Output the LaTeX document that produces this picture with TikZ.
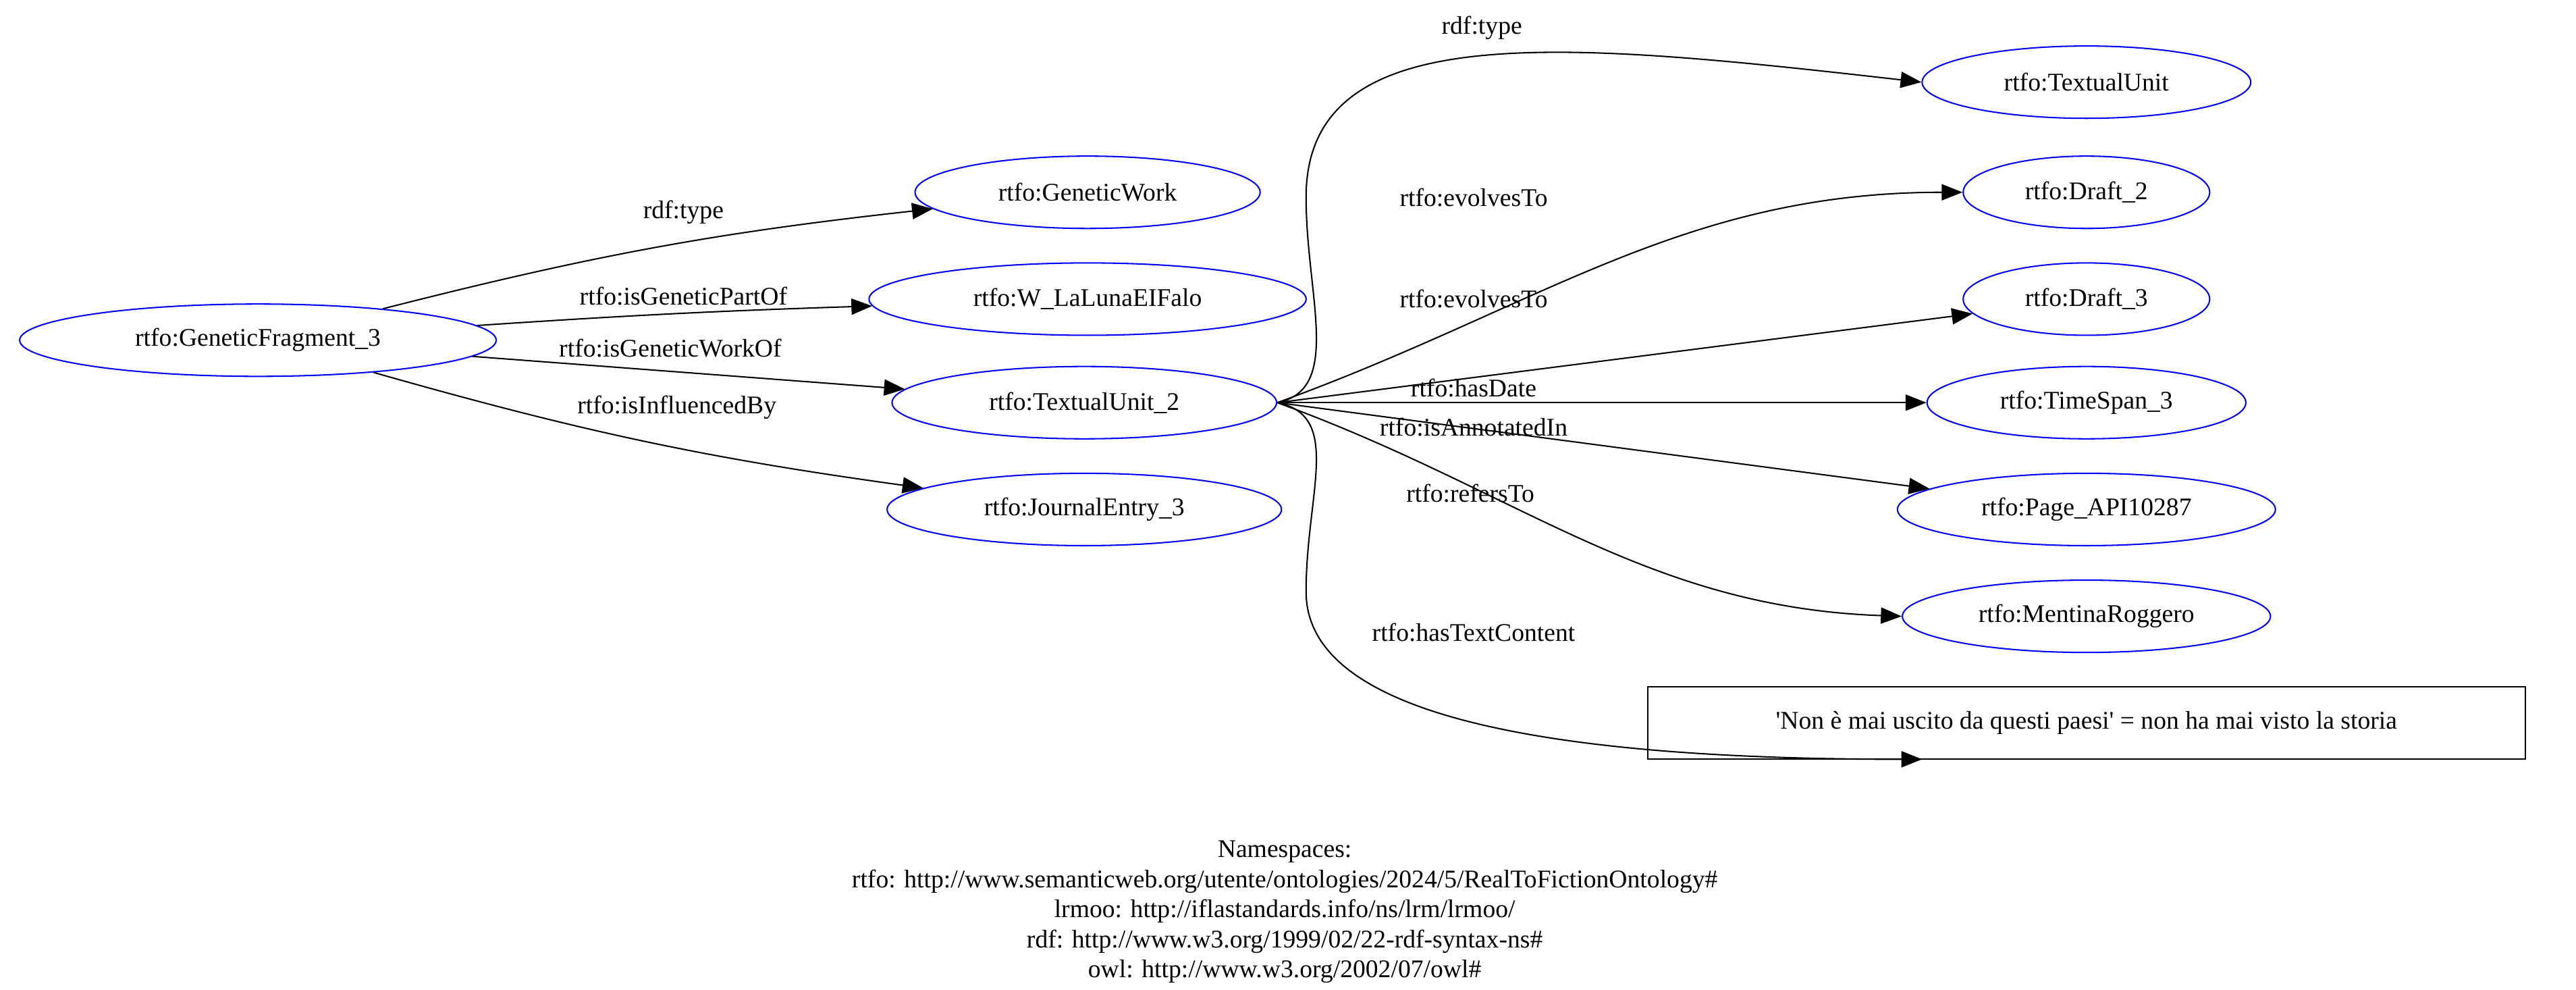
\documentclass[tikz,border=0pt]{standalone}
\usepackage{fontspec}
\setmainfont{Liberation Serif}
\usetikzlibrary{shapes.geometric,arrows.meta}
\tikzset{
  res/.style = {ellipse, draw=blue, semithick, minimum height=1.1cm, font=\fontsize{11}{13}\selectfont},
  lit/.style = {rectangle, draw, semithick, minimum height=1.1cm, minimum width=13.35cm, font=\fontsize{11}{13}\selectfont},
  rel/.style = {-{Triangle[length=9pt,width=7pt]}, semithick},
  lab/.style = {font=\fontsize{11}{13}\selectfont}
}
\begin{document}
\begin{tikzpicture}[x=0.025cm, y=-0.025cm]
\useasboundingbox (0,0) rectangle (1568,602);
% Subject and its objects
\node[res, minimum width=7.25cm] (gf) at (157,207) {rtfo:GeneticFragment\_3};
\node[res, minimum width=5.25cm] (gw) at (662,117) {rtfo:GeneticWork};
\node[res, minimum width=6.65cm] (ww) at (662,182) {rtfo:W\_LaLunaEIFalo};
\node[res, minimum width=5.85cm] (tu2) at (660,245) {rtfo:TextualUnit\_2};
\node[res, minimum width=6cm] (je) at (660,310) {rtfo:JournalEntry\_3};
% Objects of TextualUnit_2
\node[res, minimum width=5cm] (tu) at (1270,50) {rtfo:TextualUnit};
\node[res, minimum width=3.75cm] (d2) at (1270,117) {rtfo:Draft\_2};
\node[res, minimum width=3.75cm] (d3) at (1270,182) {rtfo:Draft\_3};
\node[res, minimum width=4.85cm] (ts) at (1270,245) {rtfo:TimeSpan\_3};
\node[res, minimum width=5.75cm] (pg) at (1270,310) {rtfo:Page\_API10287};
\node[res, minimum width=5.6cm] (mr) at (1270,375) {rtfo:MentinaRoggero};
\node[lit] (txt) at (1270,440) {\textquotesingle Non è mai uscito da questi paesi\textquotesingle{} = non ha mai visto la storia};
\coordinate (txtin) at (1170,462);
% Edges
\draw[rel] (gf) to[bend left=4] (gw);
\draw[rel] (gf) to[bend left=1] (ww);
\draw[rel] (gf) -- (tu2);
\draw[rel] (gf) to[bend right=4] (je);
\draw[rel] (tu2.east) .. controls +(40,-8) and +(0,60) .. (795,120) .. controls +(0,-110) and +(-220,-25) .. (tu.west);
\draw[rel] (tu2.east) to[out=20,in=180] (d2.west);
\draw[rel] (tu2.east) -- (d3);
\draw[rel] (tu2.east) -- (ts);
\draw[rel] (tu2.east) -- (pg);
\draw[rel] (tu2.east) to[out=-20,in=178] (mr.west);
\draw[rel] (tu2.east) .. controls +(40,8) and +(0,-60) .. (795,360) .. controls +(0,70) and +(-250,0) .. (txtin);
% Edge labels
\node[lab] (l1) at (416,129) {rdf:type};
\node[lab] (l2) at (416,180) {rtfo:isGeneticPartOf};
\node[lab] (l3) at (408,212) {rtfo:isGeneticWorkOf};
\node[lab] (l4) at (412,248) {rtfo:isInfluencedBy};
\node[lab] (l5) at (902,17) {rdf:type};
\node[lab] (l6) at (897,120) {rtfo:evolvesTo};
\node[lab] (l7) at (897,182) {rtfo:evolvesTo};
\node[lab] (l8) at (897,236) {rtfo:hasDate};
\node[lab] (l9) at (897,260) {rtfo:isAnnotatedIn};
\node[lab] (l10) at (895,300) {rtfo:refersTo};
\node[lab] (l11) at (897,385) {rtfo:hasTextContent};
% Namespaces
\node[lab, align=center] (ns) at (782,555) {Namespaces:\\
rtfo: http://www.semanticweb.org/utente/ontologies/2024/5/RealToFictionOntology\#\\
lrmoo: http://iflastandards.info/ns/lrm/lrmoo/\\
rdf: http://www.w3.org/1999/02/22-rdf-syntax-ns\#\\
owl: http://www.w3.org/2002/07/owl\#};
\end{tikzpicture}
\end{document}
